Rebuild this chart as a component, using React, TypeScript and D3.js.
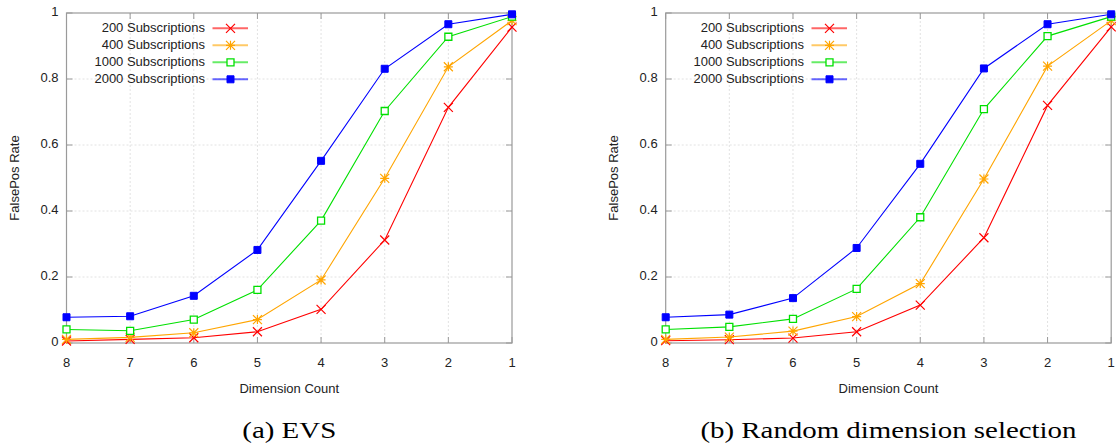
import React from 'react'
import * as d3 from 'd3'

const dims = [8, 7, 6, 5, 4, 3, 2, 1]
const yTicks = [0, 0.2, 0.4, 0.6, 0.8, 1]
const seriesNames = ['200 Subscriptions', '400 Subscriptions', '1000 Subscriptions', '2000 Subscriptions']
const seriesColors = ['#ff0000', '#ffa500', '#00e000', '#0000ff']
const seriesMarkers = ['cross', 'star', 'openSquare', 'square']

// panel (a) EVS
const evs200 = [0.006, 0.011, 0.016, 0.034, 0.102, 0.312, 0.714, 0.957]
const evs400 = [0.011, 0.017, 0.031, 0.071, 0.191, 0.499, 0.837, 0.977]
const evs1000 = [0.041, 0.037, 0.071, 0.161, 0.371, 0.703, 0.928, 0.989]
const evs2000 = [0.078, 0.081, 0.143, 0.282, 0.552, 0.831, 0.966, 0.996]

// panel (b) random dimension selection
const rnd200 = [0.007, 0.010, 0.015, 0.034, 0.115, 0.319, 0.720, 0.958]
const rnd400 = [0.011, 0.018, 0.036, 0.080, 0.180, 0.497, 0.839, 0.977]
const rnd1000 = [0.041, 0.049, 0.073, 0.164, 0.381, 0.709, 0.930, 0.989]
const rnd2000 = [0.078, 0.086, 0.136, 0.288, 0.543, 0.832, 0.966, 0.996]

const sans = "'Liberation Sans', Arial, sans-serif"
const serif = "'Liberation Serif', 'Times New Roman', serif"
const fs = 13

function markerPath(kind: string, x: number, y: number) {
  const p = d3.path()
  if (kind === 'cross') {
    const r = 4.5
    p.moveTo(x - r, y - r); p.lineTo(x + r, y + r)
    p.moveTo(x - r, y + r); p.lineTo(x + r, y - r)
  } else if (kind === 'star') {
    const r = 4.5
    p.moveTo(x - r, y - r); p.lineTo(x + r, y + r)
    p.moveTo(x - r, y + r); p.lineTo(x + r, y - r)
    p.moveTo(x - r, y); p.lineTo(x + r, y)
    p.moveTo(x, y - r); p.lineTo(x, y + r)
  } else {
    const r = 3.5
    p.rect(x - r, y - r, 2 * r, 2 * r)
  }
  return p.toString()
}

function Marker({ kind, color, x, y }: { kind: string; color: string; x: number; y: number }) {
  const d = markerPath(kind, x, y)
  if (kind === 'square') return <path d={d} fill={color} stroke={color} strokeWidth={1} />
  if (kind === 'openSquare') return <path d={d} fill="#fff" stroke={color} strokeWidth={1.3} />
  return <path d={d} fill="none" stroke={color} strokeWidth={1.2} />
}

function Panel({ left, data, legendX, caption, captionWidth }:
  { left: number; data: number[][]; legendX: number; caption: string; captionWidth: number }) {
  const top = 13
  const bottom = 343
  const right = left + 445.5
  const x = d3.scalePoint<number>().domain(dims).range([left, right])
  const y = d3.scaleLinear().domain([0, 1]).range([bottom, top])
  const line = d3.line<number>().x((_, i) => x(dims[i])!).y(d => y(d))
  const tick = 6
  const border = '#9a9a9a'
  const cx = (left + right) / 2

  return (
    <g>
      {/* grid */}
      {dims.slice(1, -1).map(d => (
        <line key={'gx' + d} x1={x(d)} x2={x(d)} y1={top} y2={bottom} stroke="#e2e2e2" strokeDasharray="2,2" />
      ))}
      {yTicks.slice(1, -1).map(t => (
        <line key={'gy' + t} x1={left} x2={right} y1={y(t)} y2={y(t)} stroke="#e2e2e2" strokeDasharray="2,2" />
      ))}
      {/* ticks */}
      {dims.map(d => (
        <g key={'tx' + d}>
          <line x1={x(d)} x2={x(d)} y1={bottom} y2={bottom - tick} stroke={border} />
          <line x1={x(d)} x2={x(d)} y1={top} y2={top + tick} stroke={border} />
          <text x={x(d)} y={364} textAnchor="middle" dominantBaseline="middle" fontFamily={sans} fontSize={fs} fill="#222">{d}</text>
        </g>
      ))}
      {yTicks.map(t => (
        <g key={'ty' + t}>
          <line x1={left} x2={left + tick} y1={y(t)} y2={y(t)} stroke={border} />
          <line x1={right} x2={right - tick} y1={y(t)} y2={y(t)} stroke={border} />
          <text x={left - 8} y={y(t)} textAnchor="end" dominantBaseline="middle" fontFamily={sans} fontSize={fs} fill="#222">{t}</text>
        </g>
      ))}
      <rect x={left} y={top} width={right - left} height={bottom - top} fill="none" stroke={border} strokeWidth={1.2} />
      {/* series */}
      {data.map((s, si) => (
        <g key={'s' + si}>
          <path d={line(s)!} fill="none" stroke={seriesColors[si]} strokeWidth={1.1} />
          {s.map((v, i) => (
            <Marker key={i} kind={seriesMarkers[si]} color={seriesColors[si]} x={x(dims[i])!} y={y(v)} />
          ))}
        </g>
      ))}
      {/* legend */}
      {seriesNames.map((n, i) => {
        const ly = 28.3 + i * 17
        return (
          <g key={'l' + i}>
            <text x={legendX} y={ly} textAnchor="end" dominantBaseline="middle" fontFamily={sans} fontSize={fs} fill="#222">{n}</text>
            <line x1={legendX + 7.5} x2={legendX + 43} y1={ly} y2={ly} stroke={seriesColors[i]} strokeWidth={2} strokeOpacity={0.6} />
            <Marker kind={seriesMarkers[i]} color={seriesColors[i]} x={legendX + 25.5} y={ly} />
          </g>
        )
      })}
      {/* axis titles */}
      <text transform={`translate(${left - 51},${(top + bottom) / 2}) rotate(-90)`} textAnchor="middle" dominantBaseline="middle" fontFamily={sans} fontSize={fs} fill="#222">FalsePos Rate</text>
      <text x={cx} y={390} textAnchor="middle" dominantBaseline="middle" fontFamily={sans} fontSize={fs} fill="#222">Dimension Count</text>
      <text x={cx} y={438} textAnchor="middle" fontFamily={serif} fontSize={24} fill="#000" textLength={captionWidth} lengthAdjust="spacingAndGlyphs">{caption}</text>
    </g>
  )
}

export default function App() {
  return (
    <svg width={1118} height={443} style={{ position: 'absolute', left: 0, top: 0, background: '#fff' }}>
      <Panel left={66.5} data={[evs200, evs400, evs1000, evs2000]} legendX={205} caption="(a) EVS" captionWidth={94} />
      <Panel left={665.7} data={[rnd200, rnd400, rnd1000, rnd2000]} legendX={804} caption="(b) Random dimension selection" captionWidth={376} />
    </svg>
  )
}
